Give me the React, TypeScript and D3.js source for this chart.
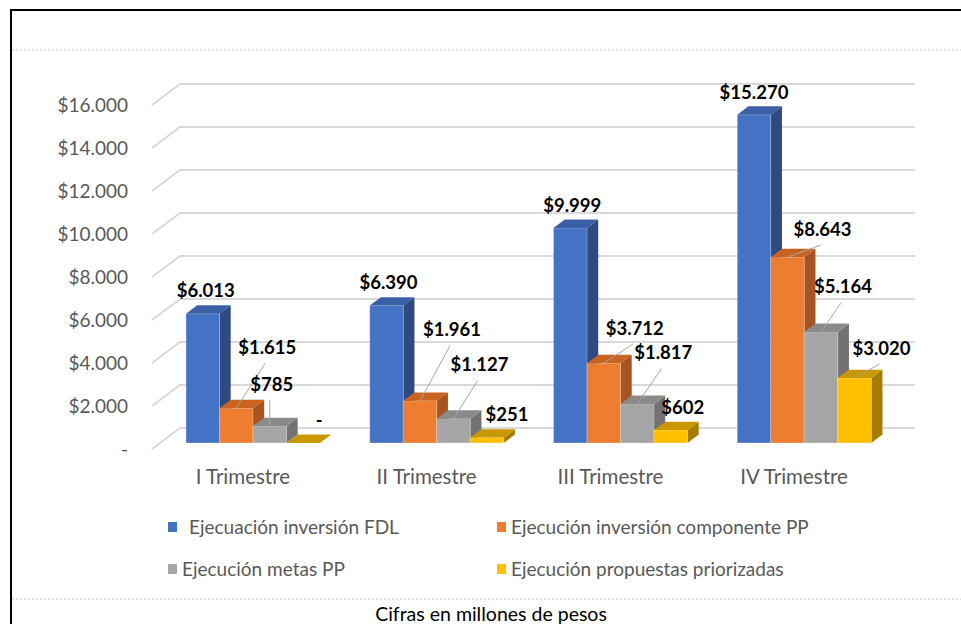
import React from 'react'
import * as d3 from 'd3'

const categories = ['I Trimestre', 'II Trimestre', 'III Trimestre', 'IV Trimestre']
const seriesNames = [
  'Ejecuación inversión FDL',
  'Ejecución inversión componente PP',
  'Ejecución metas PP',
  'Ejecución propuestas priorizadas',
]
const inversionFDL = [6013, 6390, 9999, 15270]
const componentePP = [1615, 1961, 3712, 8643]
const metasPP = [785, 1127, 1817, 5164]
const propuestas = [0, 251, 602, 3020]
const yTicks = [0, 2000, 4000, 6000, 8000, 10000, 12000, 14000, 16000]

const values = [inversionFDL, componentePP, metasPP, propuestas]

// colours per series: front, top, side
const faces = [
  ['#4472c4', '#3a5fa6', '#2e4a80'],
  ['#ed7d31', '#c8641f', '#a65422'],
  ['#a5a5a5', '#8a8a8a', '#727272'],
  ['#ffc000', '#c99700', '#a67c00'],
]

// label offsets from the bar's front-top centre [dx, dy, leader]
const labelNudge = [
  [[3, -23, 0], [2, -23, 0], [2, -23, 0], [0, -22, 0]],
  [[31, -61, 1], [32, -71, 1], [31, -35, 1], [35, -28, 1]],
  [[2, -42, 1], [26, -54, 1], [26, -51, 1], [22, -45, 1]],
  [[16, -22, 0], [20, -23, 0], [12, -23, 0], [27, -30, 1]],
]

const W = 961
const H = 624
const DX = 28
const DY = -21
const D0 = 0.286
const D1 = 0.686
const FONT = 'Lato, "Open Sans", sans-serif'

const locale = d3.formatLocale({ decimal: ',', thousands: '.', grouping: [3], currency: ['$', ''] })
const money = locale.format('$,.0f')
const fmt = (v: number) => (v === 0 ? '-' : money(v))

export default function App() {
  const y = d3.scaleLinear().domain([0, 16000]).range([449, 105])
  const x0 = d3.scaleBand<string>().domain(categories).range([152, 887])
  const x1 = d3.scaleBand<string>().domain(seriesNames).range([26, 160])
  const bw = x1.bandwidth()

  const P = (x: number, v: number, d: number): [number, number] => [x + d * DX, y(v) + d * DY]
  const poly = (pts: [number, number][]) => pts.map(p => p.join(',')).join(' ')

  return (
    <svg width={W} height={H} style={{ position: 'absolute', left: 0, top: 0, background: '#fff' }}>
      <rect x={0} y={0} width={W} height={H} fill="#fff" />
      <line x1={11} x2={11} y1={10} y2={H} stroke="#000" strokeWidth={2} />
      <line x1={10} x2={W} y1={10} y2={10} stroke="#000" strokeWidth={2} />
      <line x1={12} x2={W} y1={50} y2={50} stroke="#c8c8c8" strokeDasharray="2,2" />
      <line x1={12} x2={W} y1={599} y2={599} stroke="#c8c8c8" strokeDasharray="2,2" />

      {yTicks.map(t => {
        const a = P(152, t, 0)
        const b = P(152, t, 1)
        const c = P(887, t, 1)
        return (
          <g key={t}>
            <polyline points={poly([a, b, c])} fill="none" stroke="#d9d9d9" strokeWidth={2} />
            <text x={128} y={y(t) + 6.5} textAnchor="end" fontFamily={FONT} fontSize={19} fill="#595959">
              {fmt(t)}
            </text>
          </g>
        )
      })}

      {categories.map((c, i) => {
        const gx = x0(c)!
        return (
          <g key={c}>
            {seriesNames.map((s, j) => {
              const v = values[j][i]
              const xl = gx + x1(s)!
              const xr = xl + bw
              const [fr, tp, sd] = faces[j]
              const front = [P(xl, v, D0), P(xr, v, D0), P(xr, 0, D0), P(xl, 0, D0)]
              const top = [P(xl, v, D0), P(xr, v, D0), P(xr, v, D1), P(xl, v, D1)]
              const side = [P(xr, v, D0), P(xr, v, D1), P(xr, 0, D1), P(xr, 0, D0)]
              return (
                <g key={s}>
                  {v > 0 && <polygon points={poly(side)} fill={sd} />}
                  {v > 0 && <polygon points={poly(front)} fill={fr} stroke="#ffffff" strokeOpacity={0.35} strokeWidth={0.8} />}
                  <polygon points={poly(top)} fill={tp} />
                </g>
              )
            })}
          </g>
        )
      })}

      {categories.map((c, i) => {
        const gx = x0(c)!
        return seriesNames.map((s, j) => {
          const v = values[j][i]
          const [cx, cy] = P(gx + x1(s)! + bw / 2, v, D0)
          const [ndx, ndy, lead] = labelNudge[j][i]
          const lx = cx + ndx
          const ly = cy + ndy
          return (
            <g key={c + s}>
              {lead === 1 && <line x1={lx - 2} y1={ly + 16} x2={cx} y2={cy} stroke="#a6a6a6" strokeWidth={1} />}
              <text x={lx} y={ly + 6.5} textAnchor="middle" fontFamily={FONT} fontWeight={700} fontSize={18.5} fill="#000">
                {fmt(v)}
              </text>
            </g>
          )
        })
      })}

      {categories.map(c => (
        <text key={c} x={x0(c)! + x0.bandwidth() / 2 - 1} y={484} textAnchor="middle" fontFamily={FONT} fontSize={20.5} fill="#595959">
          {c}
        </text>
      ))}

      {seriesNames.map((s, j) => {
        const col = j % 2
        const row = Math.floor(j / 2)
        const sx = col === 0 ? 168 : 497
        const sy = 527 + row * 42
        const tx = j === 0 ? 189 : sx + 14
        return (
          <g key={s}>
            <rect x={sx} y={sy - 5} width={9} height={10} fill={faces[j][0]} />
            <text x={tx} y={sy + 6.5} fontFamily={FONT} fontSize={19} fill="#595959">
              {s}
            </text>
          </g>
        )
      })}

      <text x={491} y={621} textAnchor="middle" fontFamily={FONT} fontSize={19.5} fill="#000">
        Cifras en millones de pesos
      </text>
    </svg>
  )
}
